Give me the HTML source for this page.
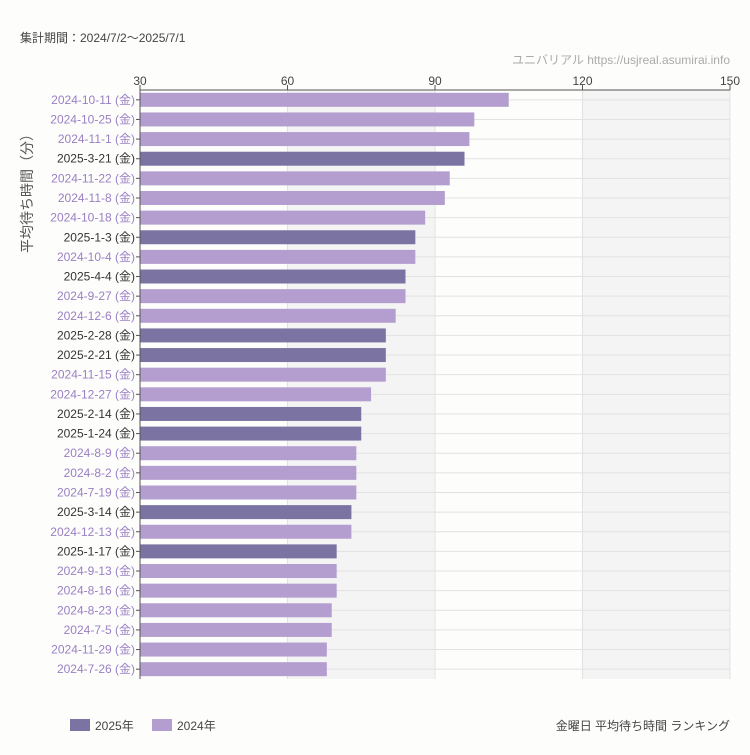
<!DOCTYPE html>
<html><head><meta charset="utf-8"><style>
body{margin:0;background:#fdfdfc;font-family:"Liberation Sans","Noto Sans CJK JP",sans-serif;}
svg text{font-family:"Liberation Sans","Noto Sans CJK JP",sans-serif;}
</style></head><body>
<svg id="c" width="750" height="750" xmlns="http://www.w3.org/2000/svg">
<rect width="750" height="750" fill="#fdfdfc"/>
<text x="20" y="42" font-size="12" fill="#444">集計期間：2024/7/2～2025/7/1</text>
<text x="730" y="64" font-size="12" fill="#aaa" text-anchor="end">ユニバリアル https://usjreal.asumirai.info</text>
<text transform="translate(32,190) rotate(-90)" font-size="14" fill="#555" text-anchor="middle">平均待ち時間（分）</text>
<g id="plot"></g>
<rect x="70" y="719" width="20" height="12" fill="#7b74a3"/>
<text x="95" y="730" font-size="12" fill="#444">2025年</text>
<rect x="152" y="719" width="20" height="12" fill="#b39ecf"/>
<text x="177" y="730" font-size="12" fill="#444">2024年</text>
<text x="730" y="730" font-size="12" fill="#444" text-anchor="end">金曜日 平均待ち時間 ランキング</text>
</svg>
<script>
const categories=["2024-10-11","2024-10-25","2024-11-1","2025-3-21","2024-11-22","2024-11-8","2024-10-18","2025-1-3","2024-10-4","2025-4-4","2024-9-27","2024-12-6","2025-2-28","2025-2-21","2024-11-15","2024-12-27","2025-2-14","2025-1-24","2024-8-9","2024-8-2","2024-7-19","2025-3-14","2024-12-13","2025-1-17","2024-9-13","2024-8-16","2024-8-23","2024-7-5","2024-11-29","2024-7-26"];
const values=[105,98,97,96,93,92,88,86,86,84,84,82,80,80,80,77,75,75,74,74,74,73,73,70,70,70,69,69,68,68];
const ticks=[30,60,90,120,150];
const NS="http://www.w3.org/2000/svg";
const x0=140,x1=730,y0=90,y1=679,vmin=30,vmax=150;
const xs=v=>x0+(v-vmin)/(vmax-vmin)*(x1-x0);
const step=(y1-y0)/categories.length;
const ys=i=>y0+step*(i+0.5);
const g=document.getElementById('plot');
function mk(t,a){const e=document.createElementNS(NS,t);for(const k in a)e.setAttribute(k,a[k]);g.appendChild(e);return e;}
for(let i=0;i<ticks.length-1;i++){
 if(i%2==1){const r=mk('rect',{x:xs(ticks[i]),y:y0,width:xs(ticks[i+1])-xs(ticks[i]),height:y1-y0,fill:'#f4f4f4'});
 
 }
}
ticks.forEach(t=>{
 const l=mk('line',{x1:xs(t),x2:xs(t),y1:y0-4,y2:y1,stroke:'#e2e2e2'});
 
 
 const tk=mk('line',{x1:xs(t),x2:xs(t),y1:y0-5,y2:y0,stroke:'#555'});
 
 
 const tx=mk('text',{x:xs(t),y:y0-5,'font-size':12,fill:'#444','text-anchor':'middle'});
 tx.textContent=t;
 
 
});
categories.forEach((c,i)=>{
 const y=ys(i);
 const gl=mk('line',{x1:x0,x2:x1,y1:y,y2:y,stroke:'#e2e2e2'});
 
 
 const is25=c.startsWith('2025');
 const b=mk('rect',{x:x0,y:y-7,width:xs(values[i])-x0,height:14,fill:is25?'#7b74a3':'#b39ecf'});
 
 
 const tk=mk('line',{x1:x0-4,x2:x0,y1:y,y2:y,stroke:'#555'});
 
 
 const t=mk('text',{x:x0-5,y:y+4,'font-size':12,fill:is25?'#333':'#9a80c4','text-anchor':'end'});
 t.textContent=c+' (金)';
 
 
});
const ax=mk('line',{x1:x0,x2:x1,y1:y0,y2:y0,stroke:'#555'});


const ay=mk('line',{x1:x0,x2:x0,y1:y0,y2:y1,stroke:'#555'});


</script>
</body></html>
